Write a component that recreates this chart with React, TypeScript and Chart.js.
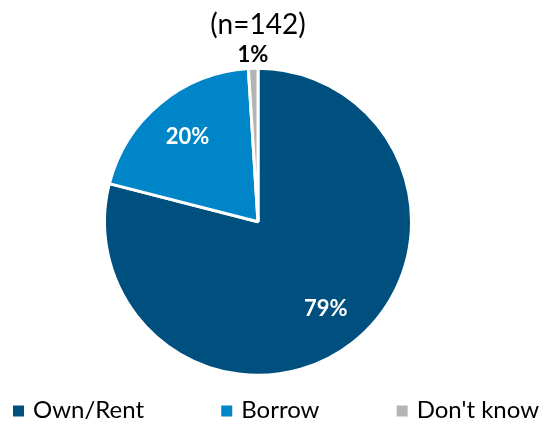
import React, { useEffect, useRef } from "react";
import { Chart, registerables } from "chart.js";

Chart.register(...registerables);

const categories = ["Own/Rent", "Borrow", "Don't know"];
const values = [79, 20, 1];
const valueLabels = ["79%", "20%", "1%"];
const colors = ["#00507F", "#0086C8", "#B4B4B4"];
const titleText = "(n=142)";
const FONT = "Lato, 'Noto Sans', sans-serif";

const sliceLabelPlugin = {
  id: "sliceLabels",
  afterDatasetsDraw(chart: any) {
    const ctx = chart.ctx;
    const meta = chart.getDatasetMeta(0);
    meta.data.forEach((arc: any, i: number) => {
      const { x, y, startAngle, endAngle, outerRadius } = arc.getProps(
        ["x", "y", "startAngle", "endAngle", "outerRadius"],
        true
      );
      const mid = (startAngle + endAngle) / 2;
      const small = values[i] < 5;
      const r = small ? outerRadius + 13 : outerRadius * 0.72;
      ctx.save();
      ctx.font = `bold 22px ${FONT}`;
      ctx.fillStyle = small ? "#000000" : "#ffffff";
      ctx.textAlign = "center";
      ctx.textBaseline = "middle";
      ctx.fillText(valueLabels[i], x + Math.cos(mid) * r, y + Math.sin(mid) * r);
      ctx.restore();
    });
  },
};

const bottomLegendPlugin = {
  id: "bottomLegend",
  afterDraw(chart: any) {
    const ctx = chart.ctx;
    ctx.save();
    ctx.font = `24px ${FONT}`;
    const box = 11;
    const gapText = 9;
    const left = 5;
    const right = 531;
    const widths = categories.map((c) => box + gapText + ctx.measureText(c).width);
    const sum = widths.reduce((a, b) => a + b, 0);
    const gap = (right - left - sum) / (categories.length - 1);
    const yMid = chart.height - 9;
    let x = left;
    categories.forEach((c, i) => {
      ctx.fillStyle = colors[i];
      ctx.fillRect(x, yMid - box / 2 + 1, box, box);
      ctx.fillStyle = "#000000";
      ctx.textAlign = "left";
      ctx.textBaseline = "middle";
      ctx.fillText(c, x + box + gapText, yMid);
      x += widths[i] + gap;
    });
    ctx.restore();
  },
};

export default function App() {
  const ref = useRef<HTMLCanvasElement>(null);
  useEffect(() => {
    if (!ref.current) return;
    const chart = new Chart(ref.current, {
      type: "pie",
      data: {
        labels: categories,
        datasets: [
          {
            data: values,
            backgroundColor: colors,
            borderColor: "#ffffff",
            borderWidth: 3,
          },
        ],
      },
      options: {
        animation: false,
        responsive: false,
        maintainAspectRatio: false,
        devicePixelRatio: 1,
        layout: { padding: { left: 95, right: 127, top: 0, bottom: 42 } },
        plugins: {
          legend: { display: false },
          tooltip: { enabled: false },
          title: {
            display: true,
            text: titleText,
            color: "#000000",
            font: { family: FONT, size: 28, weight: "normal" },
            padding: { top: 0, bottom: 25 },
          },
        },
      },
      plugins: [sliceLabelPlugin, bottomLegendPlugin],
    });
    return () => chart.destroy();
  }, []);
  return (
    <div style={{ width: 532, height: 411 }}>
      <canvas ref={ref} width={532} height={411} style={{ display: "block" }} />
    </div>
  );
}
